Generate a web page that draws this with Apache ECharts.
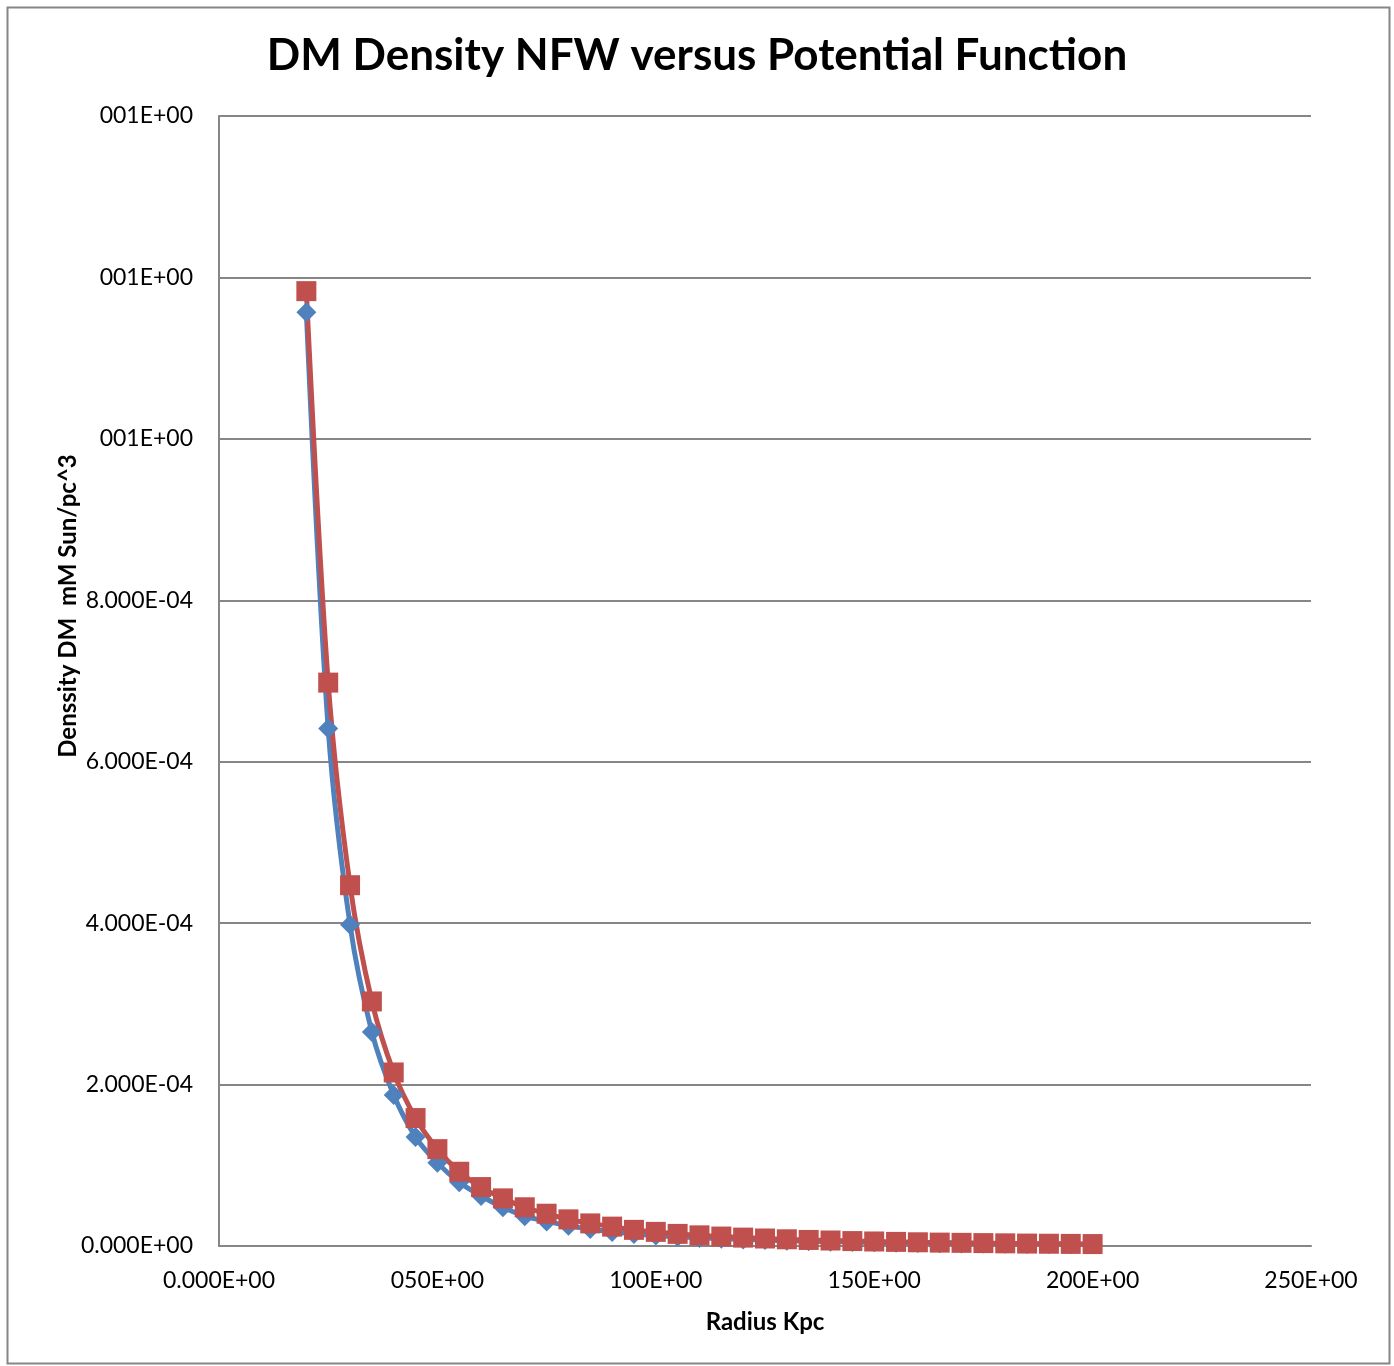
<!DOCTYPE html>
<html>
<head>
<meta charset="utf-8">
<script src="https://cdn.jsdelivr.net/npm/echarts@6/dist/echarts.min.js"></script>
<style>
html,body{margin:0;padding:0;background:#fff;}
#c{width:1394px;height:1366px;}
</style>
</head>
<body>
<div id="c"></div>
<script>
var titleText = 'DM Density NFW versus Potential Function';
var xAxisTitle = 'Radius Kpc';
var yAxisTitle = 'Denssity DM  mM Sun/pc^3';
var xTickLabels = ['0.000E+00', '050E+00', '100E+00', '150E+00', '200E+00', '250E+00'];
var yTickLabels = ['0.000E+00', '2.000E-04', '4.000E-04', '6.000E-04', '8.000E-04', '001E+00', '001E+00', '001E+00'];
var radius = [20,25,30,35,40,45,50,55,60,65,70,75,80,85,90,95,100,105,110,115,120,125,130,135,140,145,150,155,160,165,170,175,180,185,190,195,200];
var nfw = [1.157e-3,6.41e-4,3.98e-4,2.65e-4,1.87e-4,1.35e-4,1.03e-4,7.9e-5,6.2e-5,4.8e-5,3.7e-5,3.05e-5,2.5e-5,2.1e-5,1.75e-5,1.5e-5,1.3e-5,1.15e-5,1.0e-5,9.0e-6,8.1e-6,7.3e-6,6.6e-6,6.0e-6,5.4e-6,4.9e-6,4.5e-6,4.1e-6,3.8e-6,3.5e-6,3.2e-6,3.0e-6,2.8e-6,2.6e-6,2.4e-6,2.25e-6,2.1e-6];
var potential = [1.183e-3,6.98e-4,4.47e-4,3.03e-4,2.15e-4,1.585e-4,1.20e-4,9.2e-5,7.3e-5,5.9e-5,4.8e-5,4.0e-5,3.3e-5,2.8e-5,2.4e-5,2.0e-5,1.75e-5,1.5e-5,1.32e-5,1.17e-5,1.04e-5,9.3e-6,8.3e-6,7.5e-6,6.8e-6,6.1e-6,5.6e-6,5.1e-6,4.6e-6,4.2e-6,3.9e-6,3.6e-6,3.3e-6,3.0e-6,2.8e-6,2.6e-6,2.4e-6];

function pairs(xs, ys){ return xs.map(function(x,i){ return [x, ys[i]]; }); }

var font = 'Lato, "Open Sans", sans-serif';
var chart = echarts.init(document.getElementById('c'), null, {renderer:'canvas'});
chart.setOption({
  backgroundColor: '#fff',
  animation: false,
  title: {
    text: titleText, left: 'center', top: 29,
    textStyle: {fontFamily: font, fontWeight: 'bold', fontSize: 44, color: '#000'}
  },
  grid: {left: 219, right: 83, top: 116, bottom: 120, containLabel: false},
  xAxis: {
    type: 'value', min: 0, max: 250, interval: 50,
    name: xAxisTitle, nameLocation: 'middle', nameGap: 64,
    nameTextStyle: {fontFamily: font, fontWeight: 'bold', fontSize: 24, color: '#000'},
    axisLine: {show: true, lineStyle: {color: '#868686', width: 2}},
    axisTick: {show: false},
    splitLine: {show: false},
    axisLabel: {
      margin: 23, fontFamily: font, fontSize: 23, color: '#000',
      formatter: function(v){ return xTickLabels[Math.round(v/50)]; }
    }
  },
  yAxis: {
    type: 'value', min: 0, max: 1.4e-3, interval: 2e-4,
    axisLine: {show: true, lineStyle: {color: '#868686', width: 2}},
    axisTick: {show: false},
    splitLine: {show: true, lineStyle: {color: '#868686', width: 2}},
    axisLabel: {
      margin: 26, fontFamily: font, fontSize: 23, color: '#000',
      formatter: function(v){ return yTickLabels[Math.round(v/2e-4)]; }
    }
  },
  graphic: [
    {type: 'rect', left: 5, top: 5, shape: {width: 1382, height: 1356},
     style: {fill: null, stroke: '#868686', lineWidth: 2}, silent: true, z: -1},
    {type: 'text', x: 68, y: 606, rotation: Math.PI/2,
     style: {text: yAxisTitle, fill: '#000', font: 'bold 24px ' + font, textAlign: 'center', textVerticalAlign: 'middle'}}
  ],
  series: [
    {
      name: 'NFW', type: 'line', smooth: 0.3,
      data: pairs(radius, nfw),
      symbol: 'diamond', symbolSize: 20,
      lineStyle: {color: '#4F81BD', width: 5},
      itemStyle: {color: '#4F81BD'}
    },
    {
      name: 'Potential', type: 'line', smooth: 0.3,
      data: pairs(radius, potential),
      symbol: 'rect', symbolSize: 20,
      lineStyle: {color: '#C0504D', width: 5},
      itemStyle: {color: '#C0504D'}
    }
  ]
});
</script>
</body>
</html>
